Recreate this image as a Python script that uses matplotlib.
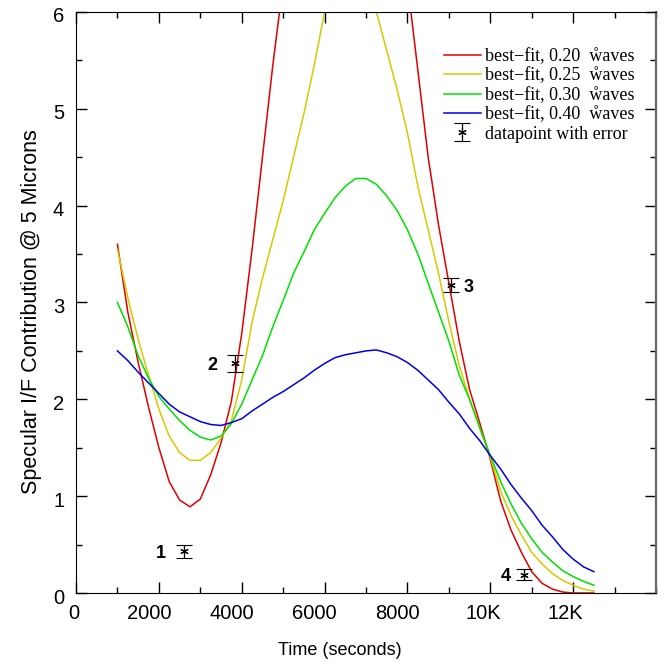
import numpy as np
import matplotlib
matplotlib.use('Agg')
import matplotlib.pyplot as plt
from matplotlib.ticker import MultipleLocator, FixedLocator
import matplotlib.transforms as mtransforms

plt.rcParams['font.family'] = ['Liberation Sans', 'DejaVu Sans']

# time samples (seconds)
time = [1000, 1250, 1500, 1750, 2000, 2250, 2500, 2750, 3000, 3250, 3500, 3750,
        4000, 4250, 4500, 4750, 5000, 5250, 5500, 5750, 6000, 6250, 6500, 6750,
        7000, 7250, 7500, 7750, 8000, 8250, 8500, 8750, 9000, 9250, 9500, 9750,
        10000, 10250, 10500, 10750, 11000, 11250, 11500, 11750, 12000, 12250, 12500]

fit_020 = [3.60, 2.90, 2.38, 1.92, 1.50, 1.15, 0.96, 0.89, 0.97, 1.22, 1.55, 1.98,
           2.68, 3.55, 4.50, 5.45, 6.30, 7.20, 7.80, 8.30, 8.70, 9.00, 9.20, 9.30,
           9.20, 8.90, 8.20, 7.20, 6.30, 5.40, 4.50, 3.80, 3.20, 2.60, 2.10, 1.75,
           1.38, 0.95, 0.65, 0.42, 0.22, 0.10, 0.04, 0.01, 0.00, 0.00, 0.00]

fit_025 = [3.55, 3.05, 2.62, 2.25, 1.90, 1.62, 1.45, 1.37, 1.37, 1.45, 1.60, 1.78,
           2.20, 2.80, 3.25, 3.65, 4.05, 4.50, 4.95, 5.45, 6.00, 6.30, 6.45, 6.50,
           6.40, 6.00, 5.60, 5.20, 4.75, 4.20, 3.75, 3.30, 2.80, 2.35, 2.00, 1.70,
           1.40, 1.05, 0.80, 0.60, 0.42, 0.30, 0.20, 0.13, 0.08, 0.04, 0.02]

fit_030 = [3.00, 2.75, 2.45, 2.22, 2.03, 1.90, 1.78, 1.68, 1.61, 1.58, 1.62, 1.75,
           1.95, 2.20, 2.45, 2.75, 3.02, 3.30, 3.52, 3.75, 3.92, 4.08, 4.20, 4.28,
           4.28, 4.22, 4.10, 3.95, 3.75, 3.50, 3.20, 2.90, 2.60, 2.25, 2.00, 1.70,
           1.42, 1.15, 0.92, 0.72, 0.56, 0.42, 0.32, 0.23, 0.17, 0.12, 0.08]

fit_040 = [2.50, 2.40, 2.28, 2.17, 2.06, 1.95, 1.87, 1.82, 1.77, 1.74, 1.73, 1.76,
           1.80, 1.88, 1.95, 2.02, 2.08, 2.15, 2.22, 2.30, 2.37, 2.43, 2.46, 2.48,
           2.50, 2.51, 2.48, 2.44, 2.38, 2.30, 2.20, 2.10, 1.97, 1.85, 1.70, 1.57,
           1.42, 1.28, 1.12, 0.98, 0.85, 0.70, 0.58, 0.45, 0.35, 0.27, 0.22]

fit_labels = ['0.20', '0.25', '0.30', '0.40']
fit_colors = ['#e00000', '#d8c800', '#00e000', '#0000e8']

# observed datapoints
obs_t = [2610, 3840, 9060, 10820]
obs_v = [0.43, 2.37, 3.18, 0.19]
obs_err = [0.07, 0.09, 0.07, 0.06]
obs_names = ['1', '2', '3', '4']

xticks = [0, 2000, 4000, 6000, 8000, 10000, 12000]
xticklabels = ['0', '2000', '4000', '6000', '8000', '10K', '12K']

fig = plt.figure(figsize=(6.64, 6.62), dpi=100)
ax = fig.add_axes([0.1145, 0.1042, 0.8735, 0.8778])

fits = [fit_020, fit_025, fit_030, fit_040]
for vals, lab, col in zip(fits, fit_labels, fit_colors):
    ax.plot(time, vals, color=col, lw=1.1,
            label='best\u2212fit, ' + lab + '  \u1e98aves')

ax.errorbar(obs_t, obs_v, yerr=obs_err, fmt='', ls='none', color='k',
            elinewidth=0.9, capsize=5.5, capthick=0.9,
            marker=(6, 2, 0), ms=6, mec='k', mew=0.8,
            label='datapoint with error')

# point numbers
offs = [(-13, 'right'), (-13, 'right'), (8.5, 'left'), (-9.5, 'right')]
for t, v, name, (dx, ha) in zip(obs_t, obs_v, obs_names, offs):
    ax.annotate(name, (t, v), xytext=(dx, -1.5), textcoords='offset points',
                ha=ha, va='center', fontsize=13, fontweight='bold')

ax.set_xlim(0, 14000)
ax.set_ylim(0, 6)
ax.xaxis.set_major_locator(FixedLocator(xticks))
ax.set_xticklabels(xticklabels)
ax.xaxis.set_minor_locator(MultipleLocator(1000))
ax.yaxis.set_major_locator(MultipleLocator(1))
ax.yaxis.set_minor_locator(MultipleLocator(0.5))
ax.tick_params(which='both', direction='in', top=True, right=True, labelsize=14.5)
ax.tick_params(which='major', length=8, width=1)
ax.tick_params(which='minor', length=4, width=1)
ax.tick_params(axis='y', pad=8.5)
ax.tick_params(axis='x', pad=8)

for lbl in ax.get_xticklabels():
    dx = -2.5 * len(lbl.get_text())
    lbl.set_transform(lbl.get_transform() +
                      mtransforms.ScaledTranslation(dx / 100, 0, fig.dpi_scale_trans))
for lbl in ax.get_yticklabels():
    lbl.set_transform(lbl.get_transform() +
                      mtransforms.ScaledTranslation(0, -3 / 100, fig.dpi_scale_trans))

ax.spines['right'].set_color('#666666')
ax.spines['right'].set_linewidth(1.6)

ax.set_xlabel('Time (seconds)', fontsize=13)
ax.xaxis.set_label_coords(0.455, -0.085)
ax.set_ylabel('Specular I/F Contribution @ 5 Microns', fontsize=15.5)
ax.yaxis.set_label_coords(-0.058, 0.485)

leg = ax.legend(loc='upper right', bbox_to_anchor=(0.975, 0.95), frameon=False,
                prop={'family': ['Liberation Serif', 'DejaVu Serif', 'DejaVu Sans'],
                      'size': 13},
                handlelength=2.05, handletextpad=0.22, labelspacing=0.13,
                borderaxespad=0.0)

fig.savefig('out.png', dpi=100)
